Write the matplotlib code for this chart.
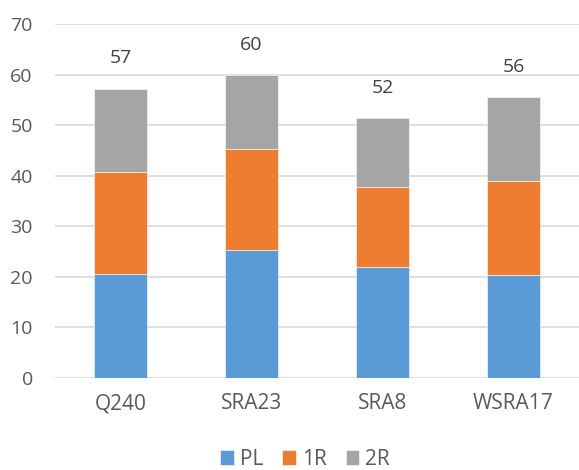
import numpy as np
import matplotlib.pyplot as plt

# DATA
categories = ["Q240", "SRA23", "SRA8", "WSRA17"]
pl = [20.6, 25.4, 21.9, 20.4]
r1 = [20.2, 19.8, 15.8, 18.5]
r2 = [16.4, 14.7, 13.7, 16.6]
total_labels = ["57", "60", "52", "56"]

colors = ["#5B9BD5", "#ED7D31", "#A5A5A5"]
text_color = "#595959"

plt.rcParams["font.family"] = ["Open Sans", "DejaVu Sans"]

fig = plt.figure(figsize=(5.79, 4.70), dpi=100)
ax = fig.add_axes([55 / 579, 92 / 470, 524 / 579, 354 / 470])

x = np.arange(len(categories))
w = 0.4
bottom = np.zeros(len(categories))
for vals, name, c in zip([pl, r1, r2], ["PL", "1R", "2R"], colors):
    ax.bar(x, vals, w, bottom=bottom, color=c, label=name,
           edgecolor="white", linewidth=0.4, zorder=3)
    bottom += np.array(vals)

# total labels above each stack
for xi, top, lab in zip(x, bottom, total_labels):
    ax.annotate(lab, (xi, top), xytext=(0, 22), textcoords="offset points",
                ha="center", va="center", fontsize=14, color="#404040")

ax.set_xlim(-0.5, len(categories) - 0.5)
ax.set_ylim(0, 70)
ax.set_yticks(range(0, 71, 10))
ax.set_xticks(x)
ax.set_xticklabels(categories)
ax.grid(axis="y", color="#D9D9D9", linewidth=1.2, zorder=0)
for s in ax.spines.values():
    s.set_visible(False)
ax.tick_params(length=0, colors=text_color)
ax.tick_params(axis="x", pad=11, labelsize=15)
ax.tick_params(axis="y", pad=16, labelsize=14)

fig.legend(loc="lower center", ncol=3, frameon=False, fontsize=15,
           bbox_to_anchor=(0.527, -0.04), handlelength=0.65, handleheight=0.7,
           columnspacing=0.9, handletextpad=0.3, labelcolor=text_color)

fig.savefig("out.png", dpi=100)
